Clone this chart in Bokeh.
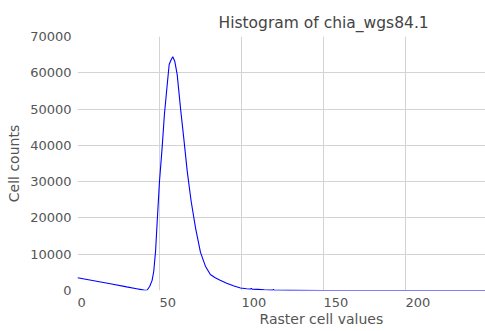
from bokeh.plotting import figure
from bokeh.models import Range1d, FixedTicker, Title
from bokeh.embed import file_html
from bokeh.resources import INLINE

# Data
cell_values = [0, 10, 20, 30, 36, 39, 41, 42.5, 44, 45.5, 46.5, 47.6, 48.6, 50, 51.6, 53,
               54.7, 55.9, 57.1, 58.1, 59.3, 60.8, 62.8, 64.8, 66.9, 69.3, 72, 75, 78,
               81, 84, 87, 91, 95, 99.4, 103, 105.5, 106, 106.5, 110, 114, 119, 119.5,
               120, 130, 150, 200, 249]
cell_counts = [3500, 2700, 1850, 1000, 500, 250, 80, 150, 1100, 2800, 5300, 10800, 19000,
               30100, 39300, 48500, 56700, 62300, 63600, 64400, 63200, 59500, 50300,
               42000, 32900, 24600, 17200, 10500, 6700, 4400, 3500, 2800, 2000, 1300,
               700, 500, 420, 600, 380, 300, 200, 100, 300, 60, 30, 0, 0, 0]
x_ticks = [0, 50, 100, 150, 200]
y_ticks = [0, 10000, 20000, 30000, 40000, 50000, 60000, 70000]

FONT = "DejaVu Sans"
GREY = "#555555"

p = figure(frame_width=408, frame_height=254, output_backend="svg", toolbar_location=None,
           x_range=Range1d(0, 248.8), y_range=Range1d(0, 70000),
           min_border_left=77, min_border_right=0, min_border_top=36, min_border_bottom=41)
p.outline_line_color = None
p.background_fill_color = "white"
p.border_fill_color = "white"

p.title.text = "Histogram of chia_wgs84.1"
p.title.align = "left"
p.title.offset = 141
p.title.standoff = 10
p.title.text_font = FONT
p.title.text_font_size = "15.5px"
p.title.text_font_style = "normal"
p.title.text_color = "#444444"

p.line(cell_values, cell_counts, line_color="#0000ff", line_width=1.1)

for ax in (p.xaxis[0], p.yaxis[0]):
    ax.axis_line_color = None
    ax.major_tick_line_color = None
    ax.minor_tick_line_color = None
    ax.major_label_text_font = FONT
    ax.major_label_text_font_size = "13px"
    ax.major_label_text_color = GREY
    ax.axis_label_text_font = FONT
    ax.axis_label_text_font_size = "14px"
    ax.axis_label_text_font_style = "normal"
    ax.axis_label_text_color = GREY

xa = p.xaxis[0]
xa.ticker = FixedTicker(ticks=x_ticks)
xa.major_label_orientation = -0.0001   # tick labels start at their grid line
xa.major_label_standoff = 6

xl = Title(text="Raster cell values", align="left", offset=182, standoff=-12,
           text_font=FONT, text_font_size="14px", text_font_style="normal",
           text_color=GREY)
p.add_layout(xl, "below")

ya = p.yaxis[0]
ya.ticker = FixedTicker(ticks=y_ticks)
ya.major_label_standoff = 0
ya.axis_label = "Cell counts"
ya.axis_label_standoff = 5

p.xgrid.ticker = FixedTicker(ticks=x_ticks)
p.ygrid.ticker = FixedTicker(ticks=y_ticks)
p.grid.grid_line_color = "#d3d3d3"
p.grid.grid_line_width = 1

open("out.html", "w").write(file_html(p, INLINE))
